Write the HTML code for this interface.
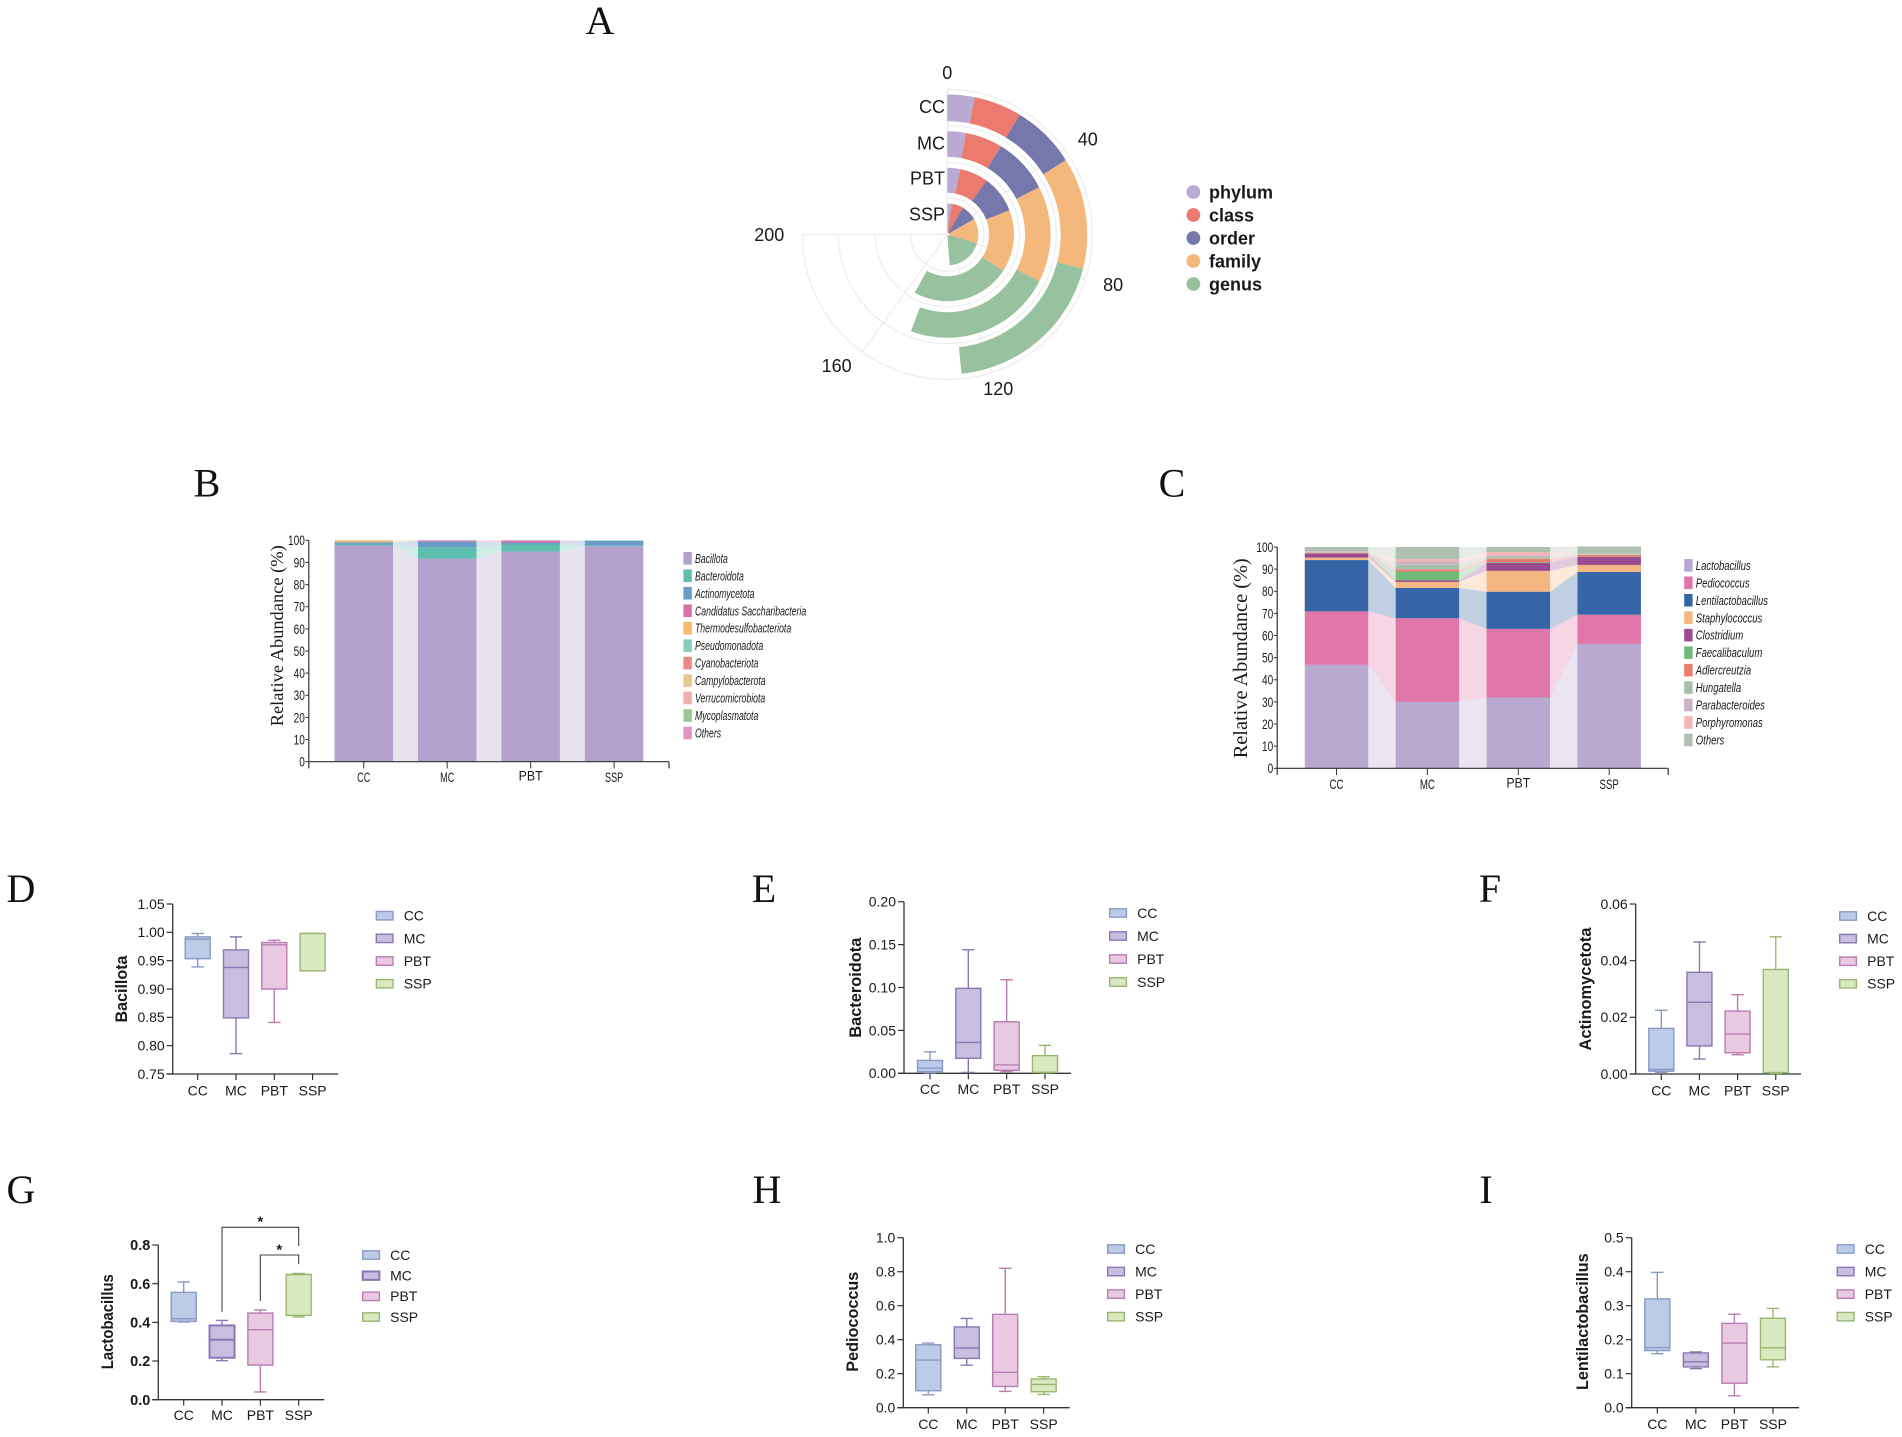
<!DOCTYPE html>
<html lang="en">
<head>
<meta charset="utf-8">
<title>Microbial composition figure</title>
<style>
html,body{margin:0;padding:0;background:#fff;}
svg{display:block;}
text{font-family:"Liberation Sans",sans-serif;fill:#1a1a1a;}
.letter{font-family:"Liberation Serif",serif;font-size:40px;fill:#111;text-anchor:middle;}
</style>
</head>
<body>
<svg id="figure" xmlns="http://www.w3.org/2000/svg" width="1902" height="1437" viewBox="0 0 1902 1437">
<rect width="1902" height="1437" fill="#fff"/>
<text class="letter" x="600" y="34">A</text>
<text class="letter" x="207" y="496.5">B</text>
<text class="letter" x="1172" y="496.5">C</text>
<text class="letter" x="21" y="902">D</text>
<text class="letter" x="764" y="902">E</text>
<text class="letter" x="1490" y="902">F</text>
<text class="letter" x="21" y="1203">G</text>
<text class="letter" x="767" y="1203">H</text>
<text class="letter" x="1486" y="1203">I</text>
</svg>
<script>
/* ---------- Panel A data ---------- */
const polarGroups = ['CC', 'MC', 'PBT', 'SSP'];
const polarLevels = ['phylum', 'class', 'order', 'family', 'genus'];
const polarTicks = [0, 40, 80, 120, 160, 200];
const polarCC = [8.4, 14.7, 19.8, 34.3, 51.8];
const polarMC = [7.8, 15.4, 23.3, 40.1, 62];
const polarPBT = [8.3, 18.5, 24.2, 40, 64];
const polarSSP = [6, 16.5, 22.1, 34.4, 51];

/* ---------- Panel B data ---------- */
const stackTicks = [0, 10, 20, 30, 40, 50, 60, 70, 80, 90, 100];
const stackCategories = ['CC', 'MC', 'PBT', 'SSP'];
const phylumTaxa = ['Bacillota', 'Bacteroidota', 'Actinomycetota', 'Candidatus Saccharibacteria', 'Thermodesulfobacteriota', 'Pseudomonadota', 'Cyanobacteriota', 'Campylobacterota', 'Verrucomicrobiota', 'Mycoplasmatota', 'Others'];
const phylumCC = [97.6, 0.5, 1.0, 0, 0.8, 0.1, 0, 0, 0, 0, 0];
const phylumMC = [91.7, 5.1, 2.6, 0.5, 0, 0.1, 0, 0, 0, 0, 0];
const phylumPBT = [94.9, 3.2, 0.9, 0.9, 0, 0.1, 0, 0, 0, 0, 0];
const phylumSSP = [97.3, 0.3, 2.2, 0, 0, 0.2, 0, 0, 0, 0, 0];

/* ---------- Panel C data ---------- */
const genusTaxa = ['Lactobacillus', 'Pediococcus', 'Lentilactobacillus', 'Staphylococcus', 'Clostridium', 'Faecalibaculum', 'Adlercreutzia', 'Hungatella', 'Parabacteroides', 'Porphyromonas', 'Others'];
const genusCC = [46.8, 24.1, 23.2, 1.1, 1.8, 0, 0.4, 0.3, 0.2, 0.1, 2.0];
const genusMC = [30, 37.8, 13.7, 2.7, 0.8, 3.9, 1.0, 2.1, 1.4, 1.2, 5.4];
const genusPBT = [32, 31, 16.8, 9.4, 3.7, 0.3, 1.5, 0.9, 0.6, 1.5, 2.3];
const genusSSP = [56.2, 13.2, 19.3, 3.2, 3.7, 0.1, 0.7, 0.2, 0.1, 0.2, 3.3];

/* ---------- Panels D-I data: [low, q1, median, q3, high] ---------- */
const boxCategories = ['CC', 'MC', 'PBT', 'SSP'];

const bacillotaTicks = ['0.75', '0.80', '0.85', '0.90', '0.95', '1.00', '1.05'];
const bacillotaCC = [0.939, 0.9535, 0.988, 0.992, 0.998];
const bacillotaMC = [0.786, 0.849, 0.938, 0.969, 0.992];
const bacillotaPBT = [0.841, 0.9, 0.978, 0.982, 0.986];
const bacillotaSSP = [0.932, 0.932, 0.998, 0.998, 0.998];

const bacteroidotaTicks = ['0.00', '0.05', '0.10', '0.15', '0.20'];
const bacteroidotaCC = [0.0005, 0.002, 0.006, 0.015, 0.025];
const bacteroidotaMC = [0.001, 0.0175, 0.036, 0.099, 0.144];
const bacteroidotaPBT = [0.002, 0.0035, 0.0097, 0.06, 0.109];
const bacteroidotaSSP = [0.0005, 0.001, 0.001, 0.0206, 0.0326];

const actinoTicks = ['0.00', '0.02', '0.04', '0.06'];
const actinoCC = [0.0006, 0.001, 0.0016, 0.0161, 0.0225];
const actinoMC = [0.0053, 0.0099, 0.0253, 0.0359, 0.0466];
const actinoPBT = [0.0068, 0.0075, 0.0141, 0.0222, 0.028];
const actinoSSP = [0.0002, 0.0004, 0.0005, 0.0369, 0.0484];

const lactoTicks = ['0.0', '0.2', '0.4', '0.6', '0.8'];
const lactoCC = [0.402, 0.405, 0.419, 0.555, 0.609];
const lactoMC = [0.202, 0.217, 0.31, 0.384, 0.41];
const lactoPBT = [0.04, 0.179, 0.362, 0.448, 0.464];
const lactoSSP = [0.428, 0.436, 0.647, 0.648, 0.653];

const pedioTicks = ['0.0', '0.2', '0.4', '0.6', '0.8', '1.0'];
const pedioCC = [0.076, 0.1, 0.28, 0.37, 0.38];
const pedioMC = [0.25, 0.29, 0.351, 0.475, 0.525];
const pedioPBT = [0.096, 0.125, 0.208, 0.549, 0.82];
const pedioSSP = [0.078, 0.094, 0.137, 0.169, 0.182];

const lentiTicks = ['0.0', '0.1', '0.2', '0.3', '0.4', '0.5'];
const lentiCC = [0.159, 0.168, 0.177, 0.32, 0.398];
const lentiMC = [0.115, 0.12, 0.135, 0.161, 0.164];
const lentiPBT = [0.035, 0.072, 0.19, 0.248, 0.275];
const lentiSSP = [0.12, 0.141, 0.176, 0.263, 0.292];

/* ---------- Helpers ---------- */
const NS = 'http://www.w3.org/2000/svg';
const root = document.getElementById('figure');
const AXIS = '#333333';

function mk(tag, attrs, parent) {
  const e = document.createElementNS(NS, tag);
  Object.keys(attrs).forEach(function (k) { e.setAttribute(k, attrs[k]); });
  parent.appendChild(e);
  return e;
}
function txt(parent, x, yc, str, size, o) {
  o = o || {};
  const sx = o.sx || 1;
  const t = mk('text', {
    transform: 'translate(' + x + ',' + (yc + size * 0.35) + ') scale(' + sx + ',1)',
    'font-size': size,
    'text-anchor': o.anchor || 'start',
    'font-weight': o.weight || 'normal',
    'font-style': o.style || 'normal'
  }, parent);
  t.textContent = str;
  return t;
}
function vtitle(parent, x, cy, str, size, len, family, weight) {
  const t = mk('text', {
    transform: 'translate(' + (x + size * 0.35) + ',' + cy + ') rotate(-90)',
    'font-size': size,
    'text-anchor': 'middle',
    'font-weight': weight,
    textLength: len,
    lengthAdjust: 'spacingAndGlyphs',
    style: 'font-family:' + family
  }, parent);
  t.textContent = str;
  return t;
}

/* ---------- Panel A ---------- */
function drawPolar() {
  const g = mk('g', {}, root);
  
  
  const cx = 947.3, cy = 234.5, maxV = 200, sweep = 270;
  const columns = [polarCC, polarMC, polarPBT, polarSSP];
  const bands = [[113.3, 140], [77.7, 103.3], [41.7, 66.7], [2, 31]];
  const gridR = [145, 109, 72.3, 36.7];
  const colors = ['#b9a9d3', '#ec7a6e', '#7678ab', '#f4b87c', '#98c29f'];
  const labelNudge = [0, -3.5, -3.5, -4, -6, 0];
  const toRad = function (v) { return v / maxV * sweep * Math.PI / 180; };
  const pt = function (r, v) { return [cx + r * Math.sin(toRad(v)), cy - r * Math.cos(toRad(v))]; };
  const fmt = function (p) { return p[0].toFixed(2) + ' ' + p[1].toFixed(2); };

  gridR.forEach(function (r) {
    const a = pt(r, 0), b = pt(r, maxV);
    const ring = mk('path', { d: 'M' + fmt(a) + ' A' + r + ' ' + r + ' 0 1 1 ' + fmt(b), fill: 'none', stroke: '#efefef', 'stroke-width': 1.4 }, g);
    
    
  });
  polarTicks.forEach(function (v, k) {
    const e = pt(gridR[0], v);
    const sp = mk('line', { x1: cx, y1: cy, x2: e[0], y2: e[1], stroke: '#efefef', 'stroke-width': 1.4 }, g);
    
    
    const lx = cx + 178 * Math.sin(toRad(v)) + labelNudge[k];
    const ly = cy - 162 * Math.cos(toRad(v));
    const lab = txt(g, lx, ly, String(v), 18, { anchor: 'middle' });
    
    
  });
  columns.forEach(function (vals, i) {
    const rIn = bands[i][0], rOut = bands[i][1];
    let cum = 0;
    vals.forEach(function (w, j) {
      const a = cum, b = cum + w;
      cum = b;
      const large = (b - a) / maxV * sweep > 180 ? 1 : 0;
      const d = 'M' + fmt(pt(rOut, a)) + ' A' + rOut + ' ' + rOut + ' 0 ' + large + ' 1 ' + fmt(pt(rOut, b)) +
        ' L' + fmt(pt(rIn, b)) + ' A' + rIn + ' ' + rIn + ' 0 ' + large + ' 0 ' + fmt(pt(rIn, a)) + ' Z';
      const seg = mk('path', { d: d, fill: colors[j] }, g);
      
      
    });
    const lab = txt(g, 945, [106.7, 143, 178, 214][i], polarGroups[i], 18, { anchor: 'end' });
    
    
  });
  polarLevels.forEach(function (name, j) {
    const yy = 192 + j * 23;
    const dot = mk('circle', { cx: 1193.4, cy: yy, r: 6.9, fill: colors[j] }, g);
    
    
    const lab = txt(g, 1209, yy, name, 18, { weight: 'bold' });
    
    
  });
}

/* ---------- Panels B and C ---------- */
function drawStack(c) {
  const g = mk('g', {}, root);
  
  
  const y = function (v) { return c.yBot - v / 100 * (c.yBot - c.yTop); };
  const xc = function (i) { return c.first + i * c.stride; };
  const tops = c.columns.map(function (col) {
    let s = 0;
    return col.map(function (v) { s += v; return s; });
  });
  c.taxa.forEach(function (name, j) {
    for (let i = 0; i < c.columns.length - 1; i++) {
      const x1 = xc(i) + c.barW / 2, x2 = xc(i + 1) - c.barW / 2;
      const b1 = j ? tops[i][j - 1] : 0, b2 = j ? tops[i + 1][j - 1] : 0;
      const pts = [[x1, y(b1)], [x1, y(tops[i][j])], [x2, y(tops[i + 1][j])], [x2, y(b2)]].map(function (p) { return p[0] + ',' + p[1]; }).join(' ');
      const link = mk('polygon', { points: pts, fill: c.colors[j], opacity: 0.3 }, g);
      
      
    }
  });
  c.taxa.forEach(function (name, j) {
    c.columns.forEach(function (col, i) {
      const lo = j ? tops[i][j - 1] : 0, hi = tops[i][j];
      const bar = mk('rect', { x: xc(i) - c.barW / 2, y: y(hi), width: c.barW, height: y(lo) - y(hi), fill: c.colors[j] }, g);
      
      
    });
  });
  const yAxis = mk('line', { x1: c.x0, y1: c.yTop, x2: c.x0, y2: c.yBot + 6.7, stroke: AXIS, 'stroke-width': 1.2 }, g);
  
  
  const xAxis = mk('line', { x1: c.x0, y1: c.yBot, x2: c.xEnd, y2: c.yBot, stroke: AXIS, 'stroke-width': 1.2 }, g);
  
  
  const endTick = mk('line', { x1: c.xEnd, y1: c.yBot, x2: c.xEnd, y2: c.yBot + 6.7, stroke: AXIS, 'stroke-width': 1.2 }, g);
  
  
  stackTicks.forEach(function (v) {
    const t = mk('line', { x1: c.x0 - 3.4, y1: y(v), x2: c.x0, y2: y(v), stroke: AXIS, 'stroke-width': 1 }, g);
    
    
    const l = txt(g, c.x0 - 4, y(v), String(v), 14, { anchor: 'end', sx: 0.72 });
    
    
  });
  stackCategories.forEach(function (name, i) {
    const t = mk('line', { x1: xc(i), y1: c.yBot, x2: xc(i), y2: c.yBot + 6.7, stroke: AXIS, 'stroke-width': 1 }, g);
    
    
    const isP = name === 'PBT';
    const l = txt(g, xc(i), c.yLabel - (isP ? 1.5 : 0), name, 14, { anchor: 'middle', sx: isP ? 0.88 : c.catScale });
    
    
  });
  const title = vtitle(g, c.titleX, c.titleY, 'Relative Abundance (%)', c.titleSize, c.titleLen, '"Liberation Serif",serif', 'normal');
  
  
  c.taxa.forEach(function (name, j) {
    const yy = c.legendY + j * 17.47;
    const sw = mk('rect', { x: c.swatchX, y: yy - 6.3, width: 8.4, height: 12.6, fill: c.colors[j] }, g);
    
    
    const l = txt(g, c.swatchX + 11.6, yy, name, 13, { style: 'italic', sx: c.legendScale });
    
    
  });
}

/* ---------- Panels D-I ---------- */
const boxStroke = ['#8a9ac6', '#8a78b2', '#b87db2', '#9ab673'];
const boxFill = ['#bccbe7', '#c9bde0', '#e8c9e1', '#dae9c0'];

function drawBox(c) {
  const g = mk('g', {}, root);
  
  
  const nums = c.ticks.map(Number);
  const minV = nums[0], maxV = nums[nums.length - 1];
  const y = function (v) { return c.yBot - (v - minV) / (maxV - minV) * (c.yBot - c.yTop); };
  const xc = function (i) { return c.first + i * c.stride; };

  const yAxis = mk('line', { x1: c.x0, y1: c.yTop, x2: c.x0, y2: c.yBot, stroke: AXIS, 'stroke-width': 1.3 }, g);
  
  
  const xAxis = mk('line', { x1: c.x0 - 6, y1: c.yBot, x2: c.xEnd, y2: c.yBot, stroke: AXIS, 'stroke-width': 1.3 }, g);
  
  
  c.ticks.forEach(function (label, k) {
    const v = nums[k];
    const t = mk('line', { x1: c.x0 - 6, y1: y(v), x2: c.x0, y2: y(v), stroke: AXIS, 'stroke-width': 1.2 }, g);
    
    
    const l = txt(g, c.x0 - 8, y(v), label, c.boldTicks ? 14.5 : 14, { anchor: 'end', weight: c.boldTicks ? 'bold' : 'normal' });
    
    
  });
  boxCategories.forEach(function (cat, i) {
    const t = mk('line', { x1: xc(i), y1: c.yBot, x2: xc(i), y2: c.yBot + 6, stroke: AXIS, 'stroke-width': 1.2 }, g);
    
    
    const l = txt(g, xc(i), c.labelY, cat, 14, { anchor: 'middle' });
    
    

    const vals = c.series[i];
    const sw = (c.thickMC && i === 1) ? 2 : 1.4;
    const hw = 12.5, cap = 6.2, col = boxStroke[i];
    const upper = mk('line', { x1: xc(i), y1: y(vals[4]), x2: xc(i), y2: y(vals[3]), stroke: col, 'stroke-width': 1.4 }, g);
    
    
    const lower = mk('line', { x1: xc(i), y1: y(vals[1]), x2: xc(i), y2: y(vals[0]), stroke: col, 'stroke-width': 1.4 }, g);
    
    
    const capHi = mk('line', { x1: xc(i) - cap, y1: y(vals[4]), x2: xc(i) + cap, y2: y(vals[4]), stroke: col, 'stroke-width': 1.4 }, g);
    
    
    const capLo = mk('line', { x1: xc(i) - cap, y1: y(vals[0]), x2: xc(i) + cap, y2: y(vals[0]), stroke: col, 'stroke-width': 1.4 }, g);
    
    
    const box = mk('rect', { x: xc(i) - hw, y: y(vals[3]), width: hw * 2, height: y(vals[1]) - y(vals[3]), fill: boxFill[i], stroke: col, 'stroke-width': sw }, g);
    
    
    const med = mk('line', { x1: xc(i) - hw, y1: y(vals[2]), x2: xc(i) + hw, y2: y(vals[2]), stroke: col, 'stroke-width': sw }, g);
    
    

    const ly = c.legendY + i * c.legendStep;
    const swatch = mk('rect', { x: c.swatchX, y: ly - 4.2, width: 16.7, height: 8.4, fill: boxFill[i], stroke: col, 'stroke-width': sw }, g);
    
    
    const ll = txt(g, c.swatchX + 27.4, ly, cat, 14);
    
    
  });
  const title = vtitle(g, c.titleX, c.titleY, c.title, 16.5, c.titleLen, '"Liberation Sans",sans-serif', 'bold');
  
  
  return { g: g, xc: xc };
}

function drawBracket(parent, x1, y1, yTop, x2, y2, sx, sy) {
  const p = mk('path', { d: 'M' + x1 + ' ' + y1 + ' V' + yTop + ' H' + x2 + ' V' + y2, fill: 'none', stroke: '#444', 'stroke-width': 1.1 }, parent);
  
  
  const s = txt(parent, sx, sy, '*', 15, { anchor: 'middle', weight: 'bold' });
  
  
}

/* ---------- Render ---------- */
drawPolar();

drawStack({
  name: 'phylum-stacked-bar-chart',
  columns: [phylumCC, phylumMC, phylumPBT, phylumSSP],
  taxa: phylumTaxa,
  colors: ['#b3a0cc', '#5fbfae', '#6a9cc8', '#db6fa9', '#f6b96e', '#86cfc0', '#e88a86', '#e8c68f', '#efaeb0', '#9cc793', '#e394c5'],
  x0: 308.8, xEnd: 669, yTop: 540.3, yBot: 761.7, first: 363.75, stride: 83.45, barW: 58.5,
  yLabel: 777, titleX: 276.8, titleY: 635.8, titleSize: 18, titleLen: 181, swatchX: 683.4, legendY: 558.3,
  catScale: 0.65, legendScale: 0.67
});
drawStack({
  name: 'genus-stacked-bar-chart',
  columns: [genusCC, genusMC, genusPBT, genusSSP],
  taxa: genusTaxa,
  colors: ['#b9a8cf', '#e075aa', '#3565a6', '#f4b784', '#9c4b92', '#71bb79', '#ee7c6e', '#a4c1a8', '#ccb0c4', '#f4b6b4', '#afbfb2'],
  x0: 1277.2, xEnd: 1668.2, yTop: 547, yBot: 768.3, first: 1336.5, stride: 90.9, barW: 63.5,
  yLabel: 784, titleX: 1240, titleY: 658.3, titleSize: 20, titleLen: 200, swatchX: 1684.2, legendY: 565.3,
  catScale: 0.69, legendScale: 0.73
});

drawBox({
  name: 'bacillota-box-plot', title: 'Bacillota', ticks: bacillotaTicks,
  series: [bacillotaCC, bacillotaMC, bacillotaPBT, bacillotaSSP],
  x0: 172.7, xEnd: 338.3, yTop: 904, yBot: 1074, first: 197.7, stride: 38.3, labelY: 1090.7,
  titleX: 121, titleY: 989, titleLen: 67, swatchX: 376.3, legendY: 915.7, legendStep: 22.67
});
drawBox({
  name: 'bacteroidota-box-plot', title: 'Bacteroidota', ticks: bacteroidotaTicks,
  series: [bacteroidotaCC, bacteroidotaMC, bacteroidotaPBT, bacteroidotaSSP],
  x0: 904, xEnd: 1071, yTop: 901.7, yBot: 1073.3, first: 930, stride: 38.33, labelY: 1089.3,
  titleX: 855, titleY: 987.7, titleLen: 100, swatchX: 1109.7, legendY: 913, legendStep: 23
});
drawBox({
  name: 'actinomycetota-box-plot', title: 'Actinomycetota', ticks: actinoTicks,
  series: [actinoCC, actinoMC, actinoPBT, actinoSSP],
  x0: 1635.7, xEnd: 1801, yTop: 904, yBot: 1074, first: 1661.3, stride: 38.15, labelY: 1090.7,
  titleX: 1585, titleY: 989, titleLen: 123, swatchX: 1839.7, legendY: 916, legendStep: 22.6
});
const lactoPlot = drawBox({
  name: 'lactobacillus-box-plot', title: 'Lactobacillus', ticks: lactoTicks,
  series: [lactoCC, lactoMC, lactoPBT, lactoSSP], boldTicks: true, thickMC: true,
  x0: 158.3, xEnd: 324.3, yTop: 1245, yBot: 1399.7, first: 183.7, stride: 38.33, labelY: 1415,
  titleX: 107.3, titleY: 1321.7, titleLen: 95, swatchX: 362.7, legendY: 1255, legendStep: 20.67
});
drawBracket(lactoPlot.g, lactoPlot.xc(1), 1311.7, 1227.3, lactoPlot.xc(3), 1246, 260.3, 1221);
drawBracket(lactoPlot.g, lactoPlot.xc(2), 1301, 1255, lactoPlot.xc(3), 1264.3, 279.3, 1249);
drawBox({
  name: 'pediococcus-box-plot', title: 'Pediococcus', ticks: pedioTicks,
  series: [pedioCC, pedioMC, pedioPBT, pedioSSP],
  x0: 903.3, xEnd: 1069.7, yTop: 1237.7, yBot: 1407.7, first: 928.3, stride: 38.45, labelY: 1424,
  titleX: 852.3, titleY: 1321.7, titleLen: 100, swatchX: 1107.7, legendY: 1249, legendStep: 22.55
});
drawBox({
  name: 'lentilactobacillus-box-plot', title: 'Lentilactobacillus', ticks: lentiTicks,
  series: [lentiCC, lentiMC, lentiPBT, lentiSSP],
  x0: 1631.7, xEnd: 1799, yTop: 1237.7, yBot: 1407.7, first: 1657.3, stride: 38.55, labelY: 1424,
  titleX: 1582.3, titleY: 1321.7, titleLen: 136.7, swatchX: 1837.3, legendY: 1249, legendStep: 22.55
});
</script>
</body>
</html>
